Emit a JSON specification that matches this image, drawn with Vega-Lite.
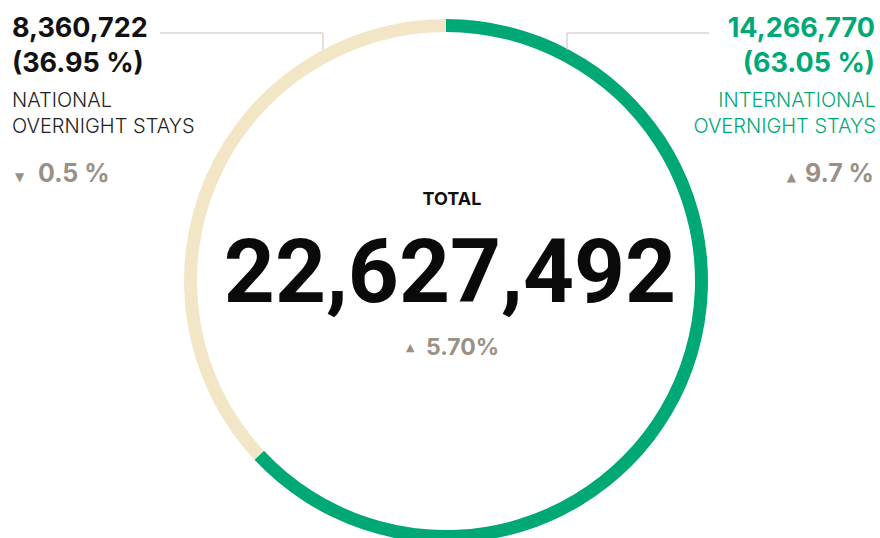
{
  "$schema": "https://vega.github.io/schema/vega-lite/v6.json",
  "width": 880,
  "height": 538,
  "padding": 0,
  "autosize": {"type": "none"},
  "background": "#ffffff",
  "config": {"view": {"stroke": null}, "text": {"font": "Inter"}},
  "datasets": {
    "segments": [
      {"segment": "International", "value": 14266770, "pct_label": "(63.05 %)", "name1": "INTERNATIONAL", "name2": "OVERNIGHT STAYS", "arrow": "▲", "change": "9.7 %", "order": 1},
      {"segment": "National", "value": 8360722, "pct_label": "(36.95 %)", "name1": "NATIONAL", "name2": "OVERNIGHT STAYS", "arrow": "▼", "change": "0.5 %", "order": 2}
    ],
    "total": [
      {"label": "TOTAL", "total": 22627492, "arrow": "▲", "change": "5.70%"}
    ]
  },
  "data": {"name": "segments"},
  "layer": [
    {
      "mark": {"type": "arc", "innerRadius": 249, "outerRadius": 262},
      "encoding": {
        "theta": {"field": "value", "type": "quantitative", "stack": true},
        "order": {"field": "order", "type": "quantitative"},
        "color": {"field": "segment", "type": "nominal", "scale": {"domain": ["International", "National"], "range": ["#00a876", "#f2e6c6"]}, "legend": null},
        "x": {"datum": 446, "type": "quantitative", "scale": {"domain": [0, 880], "nice": false, "zero": false}, "axis": null},
        "y": {"datum": 281, "type": "quantitative", "scale": {"domain": [0, 538], "nice": false, "zero": false, "reverse": true}, "axis": null}
      }
    },
    {
      "transform": [{"filter": "datum.segment === 'National'"}],
      "mark": {"type": "rule", "color": "#c9c1b6", "strokeWidth": 1},
      "encoding": {
        "x": {"datum": 160, "type": "quantitative", "scale": {"domain": [0, 880], "nice": false, "zero": false}, "axis": null},
        "x2": {"datum": 323},
        "y": {"datum": 33, "type": "quantitative", "scale": {"domain": [0, 538], "nice": false, "zero": false, "reverse": true}, "axis": null}
      }
    },
    {
      "transform": [{"filter": "datum.segment === 'National'"}],
      "mark": {"type": "rule", "color": "#c9c1b6", "strokeWidth": 1},
      "encoding": {
        "x": {"datum": 323, "type": "quantitative", "scale": {"domain": [0, 880], "nice": false, "zero": false}, "axis": null},
        "y": {"datum": 33, "type": "quantitative", "scale": {"domain": [0, 538], "nice": false, "zero": false, "reverse": true}, "axis": null},
        "y2": {"datum": 50}
      }
    },
    {
      "transform": [{"filter": "datum.segment === 'International'"}],
      "mark": {"type": "rule", "color": "#c9c1b6", "strokeWidth": 1},
      "encoding": {
        "x": {"datum": 567, "type": "quantitative", "scale": {"domain": [0, 880], "nice": false, "zero": false}, "axis": null},
        "x2": {"datum": 709},
        "y": {"datum": 33, "type": "quantitative", "scale": {"domain": [0, 538], "nice": false, "zero": false, "reverse": true}, "axis": null}
      }
    },
    {
      "transform": [{"filter": "datum.segment === 'International'"}],
      "mark": {"type": "rule", "color": "#c9c1b6", "strokeWidth": 1},
      "encoding": {
        "x": {"datum": 567, "type": "quantitative", "scale": {"domain": [0, 880], "nice": false, "zero": false}, "axis": null},
        "y": {"datum": 33, "type": "quantitative", "scale": {"domain": [0, 538], "nice": false, "zero": false, "reverse": true}, "axis": null},
        "y2": {"datum": 50}
      }
    },
    {
      "transform": [{"filter": "datum.segment === 'National'"}],
      "layer": [
        {
          "mark": {"type": "text", "align": "left", "baseline": "alphabetic", "fontSize": 27, "fontWeight": 700, "color": "#111111"},
          "encoding": {
            "text": {"field": "value", "type": "quantitative", "format": ","},
            "x": {"datum": 12, "type": "quantitative", "scale": {"domain": [0, 880], "nice": false, "zero": false}, "axis": null},
            "y": {"datum": 37, "type": "quantitative", "scale": {"domain": [0, 538], "nice": false, "zero": false, "reverse": true}, "axis": null}
          }
        },
        {
          "mark": {"type": "text", "align": "left", "baseline": "alphabetic", "fontSize": 27, "fontWeight": 700, "color": "#111111"},
          "encoding": {
            "text": {"field": "pct_label", "type": "nominal"},
            "x": {"datum": 12, "type": "quantitative", "scale": {"domain": [0, 880], "nice": false, "zero": false}, "axis": null},
            "y": {"datum": 72, "type": "quantitative", "scale": {"domain": [0, 538], "nice": false, "zero": false, "reverse": true}, "axis": null}
          }
        },
        {
          "mark": {"type": "text", "align": "left", "baseline": "alphabetic", "fontSize": 20, "fontWeight": 300, "color": "#222222"},
          "encoding": {
            "text": {"field": "name1", "type": "nominal"},
            "x": {"datum": 12, "type": "quantitative", "scale": {"domain": [0, 880], "nice": false, "zero": false}, "axis": null},
            "y": {"datum": 107, "type": "quantitative", "scale": {"domain": [0, 538], "nice": false, "zero": false, "reverse": true}, "axis": null}
          }
        },
        {
          "mark": {"type": "text", "align": "left", "baseline": "alphabetic", "fontSize": 20, "fontWeight": 300, "color": "#222222"},
          "encoding": {
            "text": {"field": "name2", "type": "nominal"},
            "x": {"datum": 12, "type": "quantitative", "scale": {"domain": [0, 880], "nice": false, "zero": false}, "axis": null},
            "y": {"datum": 133, "type": "quantitative", "scale": {"domain": [0, 538], "nice": false, "zero": false, "reverse": true}, "axis": null}
          }
        },
        {
          "mark": {"type": "text", "align": "left", "baseline": "alphabetic", "fontSize": 12, "color": "#9a9085", "font": "DejaVu Sans"},
          "encoding": {
            "text": {"field": "arrow", "type": "nominal"},
            "x": {"datum": 15, "type": "quantitative", "scale": {"domain": [0, 880], "nice": false, "zero": false}, "axis": null},
            "y": {"datum": 181, "type": "quantitative", "scale": {"domain": [0, 538], "nice": false, "zero": false, "reverse": true}, "axis": null}
          }
        },
        {
          "mark": {"type": "text", "align": "left", "baseline": "alphabetic", "fontSize": 25, "fontWeight": 700, "color": "#9a9085"},
          "encoding": {
            "text": {"field": "change", "type": "nominal"},
            "x": {"datum": 38, "type": "quantitative", "scale": {"domain": [0, 880], "nice": false, "zero": false}, "axis": null},
            "y": {"datum": 182, "type": "quantitative", "scale": {"domain": [0, 538], "nice": false, "zero": false, "reverse": true}, "axis": null}
          }
        }
      ]
    },
    {
      "transform": [{"filter": "datum.segment === 'International'"}],
      "layer": [
        {
          "mark": {"type": "text", "align": "right", "baseline": "alphabetic", "fontSize": 27, "fontWeight": 700, "color": "#00a876"},
          "encoding": {
            "text": {"field": "value", "type": "quantitative", "format": ","},
            "x": {"datum": 875, "type": "quantitative", "scale": {"domain": [0, 880], "nice": false, "zero": false}, "axis": null},
            "y": {"datum": 37, "type": "quantitative", "scale": {"domain": [0, 538], "nice": false, "zero": false, "reverse": true}, "axis": null}
          }
        },
        {
          "mark": {"type": "text", "align": "right", "baseline": "alphabetic", "fontSize": 27, "fontWeight": 700, "color": "#00a876"},
          "encoding": {
            "text": {"field": "pct_label", "type": "nominal"},
            "x": {"datum": 875, "type": "quantitative", "scale": {"domain": [0, 880], "nice": false, "zero": false}, "axis": null},
            "y": {"datum": 72, "type": "quantitative", "scale": {"domain": [0, 538], "nice": false, "zero": false, "reverse": true}, "axis": null}
          }
        },
        {
          "mark": {"type": "text", "align": "right", "baseline": "alphabetic", "fontSize": 20, "fontWeight": 300, "color": "#00a876"},
          "encoding": {
            "text": {"field": "name1", "type": "nominal"},
            "x": {"datum": 876, "type": "quantitative", "scale": {"domain": [0, 880], "nice": false, "zero": false}, "axis": null},
            "y": {"datum": 107, "type": "quantitative", "scale": {"domain": [0, 538], "nice": false, "zero": false, "reverse": true}, "axis": null}
          }
        },
        {
          "mark": {"type": "text", "align": "right", "baseline": "alphabetic", "fontSize": 20, "fontWeight": 300, "color": "#00a876"},
          "encoding": {
            "text": {"field": "name2", "type": "nominal"},
            "x": {"datum": 876, "type": "quantitative", "scale": {"domain": [0, 880], "nice": false, "zero": false}, "axis": null},
            "y": {"datum": 133, "type": "quantitative", "scale": {"domain": [0, 538], "nice": false, "zero": false, "reverse": true}, "axis": null}
          }
        },
        {
          "mark": {"type": "text", "align": "right", "baseline": "alphabetic", "fontSize": 12, "color": "#9a9085", "font": "DejaVu Sans"},
          "encoding": {
            "text": {"field": "arrow", "type": "nominal"},
            "x": {"datum": 796, "type": "quantitative", "scale": {"domain": [0, 880], "nice": false, "zero": false}, "axis": null},
            "y": {"datum": 181, "type": "quantitative", "scale": {"domain": [0, 538], "nice": false, "zero": false, "reverse": true}, "axis": null}
          }
        },
        {
          "mark": {"type": "text", "align": "right", "baseline": "alphabetic", "fontSize": 25, "fontWeight": 700, "color": "#9a9085"},
          "encoding": {
            "text": {"field": "change", "type": "nominal"},
            "x": {"datum": 874, "type": "quantitative", "scale": {"domain": [0, 880], "nice": false, "zero": false}, "axis": null},
            "y": {"datum": 182, "type": "quantitative", "scale": {"domain": [0, 538], "nice": false, "zero": false, "reverse": true}, "axis": null}
          }
        }
      ]
    },
    {
      "data": {"name": "total"},
      "layer": [
        {
          "mark": {"type": "text", "align": "center", "baseline": "alphabetic", "fontSize": 18, "fontWeight": 700, "color": "#111111"},
          "encoding": {
            "text": {"field": "label", "type": "nominal"},
            "x": {"datum": 452, "type": "quantitative", "scale": {"domain": [0, 880], "nice": false, "zero": false}, "axis": null},
            "y": {"datum": 205, "type": "quantitative", "scale": {"domain": [0, 538], "nice": false, "zero": false, "reverse": true}, "axis": null}
          }
        },
        {
          "mark": {"type": "text", "align": "center", "baseline": "alphabetic", "fontSize": 89, "fontWeight": 700, "font": "Roboto", "color": "#0a0a0a"},
          "encoding": {
            "text": {"field": "total", "type": "quantitative", "format": ","},
            "x": {"datum": 450, "type": "quantitative", "scale": {"domain": [0, 880], "nice": false, "zero": false}, "axis": null},
            "y": {"datum": 302, "type": "quantitative", "scale": {"domain": [0, 538], "nice": false, "zero": false, "reverse": true}, "axis": null}
          }
        },
        {
          "mark": {"type": "text", "align": "left", "baseline": "alphabetic", "fontSize": 11, "color": "#9a9085", "font": "DejaVu Sans"},
          "encoding": {
            "text": {"field": "arrow", "type": "nominal"},
            "x": {"datum": 406, "type": "quantitative", "scale": {"domain": [0, 880], "nice": false, "zero": false}, "axis": null},
            "y": {"datum": 351, "type": "quantitative", "scale": {"domain": [0, 538], "nice": false, "zero": false, "reverse": true}, "axis": null}
          }
        },
        {
          "mark": {"type": "text", "align": "left", "baseline": "alphabetic", "fontSize": 23, "fontWeight": 700, "color": "#9a9085"},
          "encoding": {
            "text": {"field": "change", "type": "nominal"},
            "x": {"datum": 426, "type": "quantitative", "scale": {"domain": [0, 880], "nice": false, "zero": false}, "axis": null},
            "y": {"datum": 355, "type": "quantitative", "scale": {"domain": [0, 538], "nice": false, "zero": false, "reverse": true}, "axis": null}
          }
        }
      ]
    }
  ]
}
